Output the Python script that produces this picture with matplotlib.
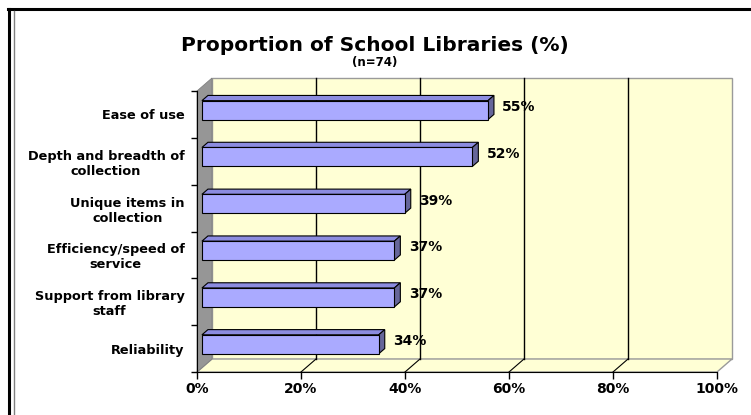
import matplotlib
matplotlib.use("Agg")
import matplotlib.pyplot as plt
from matplotlib.patches import Polygon
from matplotlib.lines import Line2D

categories = ["Ease of use", "Depth and breadth of\ncollection", "Unique items in\ncollection",
              "Efficiency/speed of\nservice", "Support from library\nstaff", "Reliability"]
values = [55, 52, 39, 37, 37, 34]
xticks = [0, 20, 40, 60, 80, 100]
xlabels = ["0%", "20%", "40%", "60%", "80%", "100%"]

W, H = 751, 415
fig = plt.figure(figsize=(W / 100, H / 100), dpi=100)
plt.rcParams['font.family'] = ['DejaVu Sans']

# axes spans front plane plus the 3d depth going up/right
ax = fig.add_axes([197 / W, 43 / H, 535 / W, 294 / H])
DX = 15 / 5.2          # depth in % units
DY = -13 / 46.83       # depth in category units (upwards)
n = len(categories)
ax.set_xlim(0, 100 + DX)
ax.set_ylim(n - 0.5, -0.5 + DY)

wall = '#FFFFD5'
# back wall, floor, left wall
ax.add_patch(Polygon([(DX, n - 0.5 + DY), (100 + DX, n - 0.5 + DY), (100 + DX, -0.5 + DY), (DX, -0.5 + DY)],
                     closed=True, facecolor=wall, edgecolor='#9a9a9a', lw=1, clip_on=False, zorder=1))
ax.add_patch(Polygon([(0, n - 0.5), (100, n - 0.5), (100 + DX, n - 0.5 + DY), (DX, n - 0.5 + DY)],
                     closed=True, facecolor=wall, edgecolor='#9a9a9a', lw=1, clip_on=False, zorder=1))
ax.add_patch(Polygon([(0, n - 0.5), (0, -0.5), (DX, -0.5 + DY), (DX, n - 0.5 + DY)],
                     closed=True, facecolor='#969696', edgecolor='#808080', lw=0.6, clip_on=False, zorder=1))

# gridlines on the wall and floor
for g in xticks[1:-1]:
    ax.plot([g + DX, g + DX], [n - 0.5 + DY, -0.5 + DY], color='black', lw=1, zorder=2, clip_on=False)
    ax.plot([g, g + DX], [n - 0.5, n - 0.5 + DY], color='black', lw=0.8, zorder=2, clip_on=False)

# bars
f0, f1 = 0.33, 0.73
h = 0.405
for i, v in enumerate(values):
    x0, x1 = f0 * DX, f1 * DX
    t0, b0 = i - h / 2 + f0 * DY, i + h / 2 + f0 * DY
    t1, b1 = i - h / 2 + f1 * DY, i + h / 2 + f1 * DY
    ax.add_patch(Polygon([(x0, t0), (v + x0, t0), (v + x1, t1), (x1, t1)], closed=True,
                         facecolor='#8C8CE0', edgecolor='black', lw=0.8, zorder=3, clip_on=False))
    ax.add_patch(Polygon([(v + x0, t0), (v + x0, b0), (v + x1, b1), (v + x1, t1)], closed=True,
                         facecolor='#66669A', edgecolor='black', lw=0.8, zorder=3, clip_on=False))
    ax.add_patch(Polygon([(x0, t0), (v + x0, t0), (v + x0, b0), (x0, b0)], closed=True,
                         facecolor='#AAAAFF', edgecolor='black', lw=0.8, zorder=4, clip_on=False))
    ax.text(v + x1 + 1.6, i - 0.16, f"{v}%", ha='left', va='center', fontsize=10,
            fontweight='bold', zorder=5)

for s in ['top', 'right']:
    ax.spines[s].set_visible(False)
ax.spines['left'].set_bounds(-0.5, n - 0.5)
ax.spines['bottom'].set_bounds(0, 100)
ax.spines['left'].set_zorder(6)
ax.spines['bottom'].set_zorder(6)
ax.patch.set_visible(False)

ax.set_xticks(xticks)
ax.set_xticklabels(xlabels, fontsize=10, fontweight='bold')
ax.tick_params(axis='x', length=5, width=1, pad=2)
ax.set_yticks(range(n))
ax.set_yticklabels(categories, fontsize=9.3, fontweight='bold')
ax.tick_params(axis='y', which='major', length=0, pad=9)
ax.set_yticks([k - 0.5 for k in range(n + 1)], minor=True)
ax.tick_params(axis='y', which='minor', length=4, width=1)
for lab in ax.get_yticklabels():
    lab.set_horizontalalignment('right')
    lab.set_multialignment('center')

fig.text(375 / W, 1 - 51 / H, "Proportion of School Libraries (%)", ha='center', va='baseline',
         fontsize=14.5, fontweight='bold')
fig.text(375 / W, 1 - 66 / H, "(n=74)", ha='center', va='baseline', fontsize=8.5, fontweight='bold')

# outer frame
fig.add_artist(Line2D([9 / W, 9 / W], [0, 1 - 9 / H], color='black', lw=2.2, transform=fig.transFigure))
fig.add_artist(Line2D([8 / W, 1], [1 - 9 / H, 1 - 9 / H], color='black', lw=2.2, transform=fig.transFigure))
fig.add_artist(Line2D([14.5 / W, 14.5 / W], [0, 1 - 11 / H], color='#808080', lw=1, transform=fig.transFigure))

fig.savefig("out.png", dpi=100)
